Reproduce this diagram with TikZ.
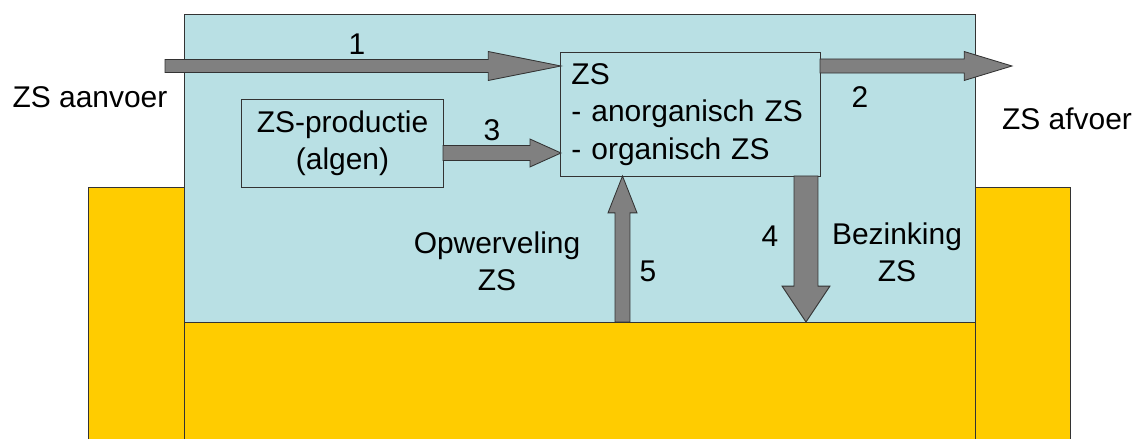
\documentclass[tikz,border=0pt]{standalone}
\usepackage{fontspec}
\setmainfont{Liberation Sans}
\usetikzlibrary{calc,positioning}
\definecolor{water}{RGB}{185,224,228}
\definecolor{bodem}{RGB}{255,204,0}
\definecolor{pijl}{RGB}{128,128,128}
% block arrow: from, to, half shaft, half head, head length
\newcommand{\blokpijl}[5]{%
  \path ($(#2)!#5!(#1)$) coordinate (kop);
  \draw[flux] ($(#1)!#3!90:(#2)$) -- ($(kop)!#3!90:(#2)$) -- ($(kop)!#4!90:(#2)$) -- (#2)
    -- ($(kop)!#4!-90:(#2)$) -- ($(kop)!#3!-90:(#2)$) -- ($(#1)!#3!-90:(#2)$) -- cycle;}

\begin{document}
\begin{tikzpicture}[x=0.025cm,y=-0.025cm,
  vak/.style={rectangle,draw=black!80,line width=0.7pt,fill=water,inner sep=0pt},
  laag/.style={draw=black!80,line width=0.7pt},
  flux/.style={draw=black!80,line width=0.6pt,fill=pijl},
  tekst/.style={font=\fontsize{21.3}{26.5}\selectfont,inner sep=0pt,align=center}]
\useasboundingbox (0,0) rectangle (1134,439);
% bodem en water
\draw[laag,fill=bodem] (88,187) rectangle (184,450);
\draw[laag,fill=bodem] (975,187) rectangle (1070,450);
\draw[laag,fill=water] (184,14) rectangle (975,322);
\draw[laag,fill=bodem] (184,322) rectangle (975,450);
% vakken
\node[vak,tekst,minimum width=6.475cm,minimum height=3.075cm,text width=5.95cm,inner xsep=0.2625cm,align=left] (zs) at (690.5,114.5)
  {ZS\\- anorganisch ZS\\- organisch ZS};
\node[vak,tekst,minimum width=5.025cm,minimum height=2.175cm] (prod) at (342.5,143.5) {ZS-productie\\(algen)};
% uiteinden
\coordinate (in) at (165,66);
\coordinate (t1) at (561,66);
\coordinate (s2) at (820,66);
\coordinate (uit) at (1012,66);
\coordinate (s3) at (443,153);
\coordinate (t3) at (561,153);
\coordinate (s5) at (622.5,322);
\coordinate (t5) at (622.5,176);
\coordinate (s4) at (806,176);
\coordinate (t4) at (806,322);
% pijlen
\blokpijl{in}{t1}{4.6pt}{10.3pt}{51.7pt}
  \blokpijl{s2}{uit}{5pt}{10.3pt}{34pt}
    \blokpijl{s3}{t3}{5.3pt}{9.9pt}{22pt}
      \blokpijl{s5}{t5}{5.3pt}{10.3pt}{26.2pt}
        \blokpijl{s4}{t4}{8.5pt}{17pt}{25.5pt}
% labels
\node[tekst] (l1) at (357,44) {1};
\node[tekst] (l2) at (860,97) {2};
\node[tekst] (l3) at (492,130) {3};
\node[tekst] (l4) at (770,236) {4};
\node[tekst] (l5) at (648,271) {5};
\node[tekst] (aan) at (90,97) {ZS aanvoer};
\node[tekst] (af) at (1067,119) {ZS afvoer};
\node[tekst] (opw) at (497,261) {Opwerveling\\ZS};
\node[tekst] (bez) at (897,252) {Bezinking\\ZS};
\end{tikzpicture}
\end{document}
